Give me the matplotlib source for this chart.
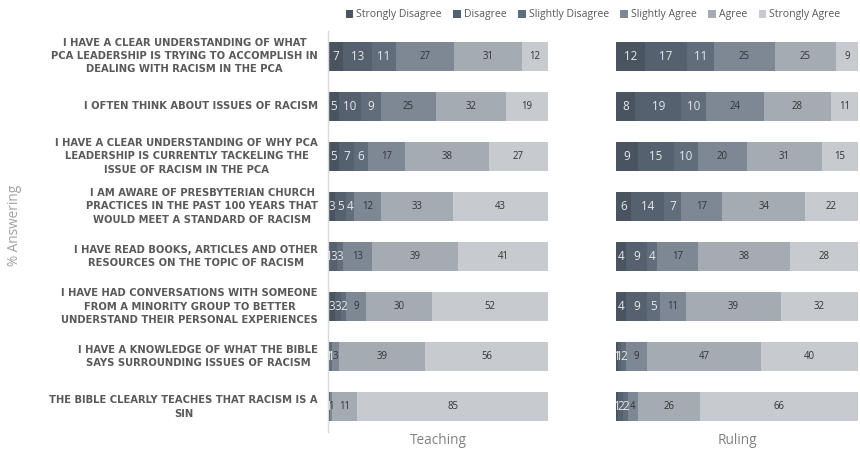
import numpy as np
import matplotlib.pyplot as plt
from matplotlib.patches import Patch

plt.rcParams['font.family'] = ['Open Sans', 'DejaVu Sans']

# Survey statements (top to bottom)
statements = [
    "I HAVE A CLEAR UNDERSTANDING OF WHAT\nPCA LEADERSHIP IS TRYING TO ACCOMPLISH IN\nDEALING WITH RACISM IN THE PCA",
    "I OFTEN THINK ABOUT ISSUES OF RACISM",
    "I HAVE A CLEAR UNDERSTANDING OF WHY PCA\nLEADERSHIP IS CURRENTLY TACKELING THE\nISSUE OF RACISM IN THE PCA",
    "I AM AWARE OF PRESBYTERIAN CHURCH\nPRACTICES IN THE PAST 100 YEARS THAT\nWOULD MEET A STANDARD OF RACISM",
    "I HAVE READ BOOKS, ARTICLES AND OTHER\nRESOURCES ON THE TOPIC OF RACISM",
    "I HAVE HAD CONVERSATIONS WITH SOMEONE\nFROM A MINORITY GROUP TO BETTER\nUNDERSTAND THEIR PERSONAL EXPERIENCES",
    "I HAVE A KNOWLEDGE OF WHAT THE BIBLE\nSAYS SURROUNDING ISSUES OF RACISM",
    "THE BIBLE CLEARLY TEACHES THAT RACISM IS A\nSIN",
]

responses = ["Strongly Disagree", "Disagree", "Slightly Disagree",
             "Slightly Agree", "Agree", "Strongly Agree"]

# % answering, one row per statement, columns follow `responses`
teaching = np.array([
    [7, 13, 11, 27, 31, 12],
    [5, 10, 9, 25, 32, 19],
    [5, 7, 6, 17, 38, 27],
    [3, 5, 4, 12, 33, 43],
    [1, 3, 3, 13, 39, 41],
    [3, 3, 2, 9, 30, 52],
    [0, 1, 1, 3, 39, 56],
    [1, 0, 0, 1, 11, 85],
])

ruling = np.array([
    [12, 17, 11, 25, 25, 9],
    [8, 19, 10, 24, 28, 11],
    [9, 15, 10, 20, 31, 15],
    [6, 14, 7, 17, 34, 22],
    [4, 9, 4, 17, 38, 28],
    [4, 9, 5, 11, 39, 32],
    [1, 1, 2, 9, 47, 40],
    [1, 2, 2, 4, 26, 66],
])

colors = ["#4a5461", "#55616e", "#616d7b", "#7e8895", "#a5abb3", "#c7cacf"]
text_colors = ["#e8e8e8", "#e8e8e8", "#e8e8e8", "#333333", "#333333", "#333333"]
text_sizes = [8.4, 8.4, 8.4, 6.9, 6.9, 6.9]

fig = plt.figure(figsize=(8.6, 4.5), dpi=100)
ax_t = fig.add_axes([328 / 860, 1 - 432 / 450, 220 / 860, 401 / 450])
ax_r = fig.add_axes([616 / 860, 1 - 432 / 450, 242 / 860, 401 / 450])

rows = np.arange(len(statements))


def draw_panel(ax, data):
    # 100% stacked: each bar fills the full width
    shares = data / data.sum(axis=1, keepdims=True) * 100
    left = np.zeros(len(rows))
    for j in range(len(responses)):
        w = shares[:, j]
        ax.barh(rows, w, left=left, height=0.58, color=colors[j],
                edgecolor='none')
        for i, v in enumerate(data[:, j]):
            if v > 0:
                ax.text(left[i] + w[i] / 2, rows[i], str(v), ha='center',
                        va='center', color=text_colors[j],
                        fontsize=text_sizes[j])
        left += w
    ax.set_xlim(0, 100)
    ax.set_ylim(len(rows) - 0.5, -0.5)
    ax.set_xticks([])
    ax.set_yticks([])
    for s in ['top', 'right', 'bottom', 'left']:
        ax.spines[s].set_visible(False)


draw_panel(ax_t, teaching)
draw_panel(ax_r, ruling)

ax_t.spines['left'].set_visible(True)
ax_t.spines['left'].set_color('#d9d9d9')
ax_t.spines['left'].set_linewidth(1.0)

# statement labels
for i, s in enumerate(statements):
    ax_t.text(-0.045, rows[i], s, transform=ax_t.get_yaxis_transform(),
              ha='right', va='center', multialignment='center',
              fontsize=7.2, fontweight='bold', color='#5a5a5a',
              family='DejaVu Sans', linespacing=1.42)

fig.text(438 / 860, 1 - 441 / 450, "Teaching", ha='center', va='center',
         fontsize=9.8, color='#808080')
fig.text(737 / 860, 1 - 441 / 450, "Ruling", ha='center', va='center',
         fontsize=9.8, color='#808080')
fig.text(15 / 860, 1 - 225 / 450, "% Answering", rotation=90, ha='center',
         va='center', fontsize=9.8, color='#a0a0a0')

handles = [Patch(facecolor=c, edgecolor='none') for c in colors]
fig.legend(handles, responses, loc='center right',
           bbox_to_anchor=(850 / 860, 1 - 15 / 450), ncol=6, frameon=False,
           fontsize=7.6, handlelength=0.7, handleheight=0.7, handletextpad=0.3,
           columnspacing=1.1, labelcolor='#595959')

fig.savefig('out.png', dpi=100)
